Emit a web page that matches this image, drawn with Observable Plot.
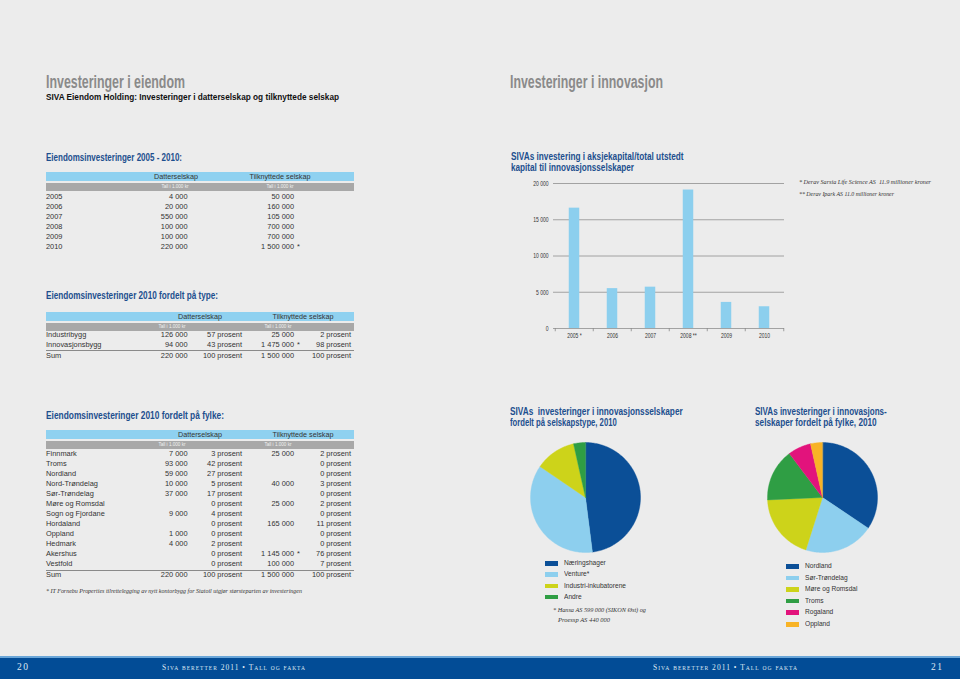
<!DOCTYPE html>
<html><head><meta charset="utf-8">
<script src="https://cdn.jsdelivr.net/npm/d3@7"></script>
<script src="https://cdn.jsdelivr.net/npm/@observablehq/plot@0.6"></script>
<style>
html,body{margin:0;padding:0;}
body{width:960px;height:679px;background:#ececec;position:relative;overflow:hidden;font-family:'Liberation Sans',Arial,sans-serif;color:#333;}
.a{position:absolute;white-space:nowrap;}
.h{font-weight:bold;color:#1d4f8e;font-size:10.4px;line-height:11px;}
.cell{font-size:7.4px;line-height:10px;color:#333;}
.serif{font-family:'Liberation Serif','Times New Roman',serif;font-style:italic;}
</style></head>
<body>
<div id="root"></div>
<script>
// ---------- data ----------
const years05 = ["2005","2006","2007","2008","2009","2010"];
const dattYears = ["4 000","20 000","550 000","100 000","100 000","220 000"];
const tilkYears = ["50 000","160 000","105 000","700 000","700 000","1 500 000 *"];

const typeLabels = ["Industribygg","Innovasjonsbygg","Sum"];
const typeDattVal = ["126 000","94 000","220 000"];
const typeDattPct = ["57 prosent","43 prosent","100 prosent"];
const typeTilkVal = ["25 000","1 475 000 *","1 500 000"];
const typeTilkPct = ["2 prosent","98 prosent","100 prosent"];

const fylker = ["Finnmark","Troms","Nordland","Nord-Trøndelag","Sør-Trøndelag","Møre og Romsdal","Sogn og Fjordane","Hordaland","Oppland","Hedmark","Akershus","Vestfold","Sum"];
const fylkeDattVal = ["7 000","93 000","59 000","10 000","37 000","","9 000","","1 000","4 000","","","220 000"];
const fylkeDattPct = ["3 prosent","42 prosent","27 prosent","5 prosent","17 prosent","0 prosent","4 prosent","0 prosent","0 prosent","2 prosent","0 prosent","0 prosent","100 prosent"];
const fylkeTilkVal = ["25 000","","","40 000","","25 000","","165 000","","","1 145 000 *","100 000","1 500 000"];
const fylkeTilkPct = ["2 prosent","0 prosent","0 prosent","3 prosent","0 prosent","2 prosent","0 prosent","11 prosent","0 prosent","0 prosent","76 prosent","7 prosent","100 prosent"];

const barYears = ["2005 *","2006","2007","2008 **","2009","2010"];
const barValues = [16600, 5500, 5700, 19100, 3600, 3000];

const typeCats = ["Næringshager","Venture*","Industri-inkubatorene","Andre"];
const typeShares = [48, 36.5, 12, 3.5];
const typeColors = ["#0b4f97","#8dcfee","#cdd31a","#2f9e44"];

const fylkeCats = ["Nordland","Sør-Trøndelag","Møre og Romsdal","Troms","Rogaland","Oppland"];
const fylkeShares = [34.4, 20.5, 19.4, 15.4, 6.8, 3.5];
const fylkeColors = ["#0b4f97","#8dcfee","#cdd31a","#2f9e44","#e2137c","#f8b326"];

// ---------- helpers ----------
const root = document.getElementById("root");
function el(html, style, cls){ const d=document.createElement("div"); d.className="a "+(cls||""); d.innerHTML=html; Object.assign(d.style,style); root.appendChild(d); return d; }
function fit(html, x, top, width, cls, style){
  const d = el(html, Object.assign({left:x+"px", top:top+"px"}, style||{}), cls);
  const w = d.getBoundingClientRect().width;
  d.style.transformOrigin = "0 0";
  d.style.transform = `scaleX(${width/w})`;
  return d;
}
function txtLeft(t,x,yc,cls,extra){ return el(t,Object.assign({left:x+"px",top:(yc-5)+"px",lineHeight:"10px"},extra||{}),cls); }
function txtRight(t,xr,yc,cls,extra){
  let star="";
  const m=t.match(/^(.*?)( \*+)$/); if(m){t=m[1];star=m[2].trim();}
  el(t,Object.assign({left:(xr-120)+"px",width:"120px",textAlign:"right",top:(yc-5)+"px",lineHeight:"10px"},extra||{}),cls);
  if(star) el(star,Object.assign({left:(xr+3)+"px",top:(yc-5)+"px",lineHeight:"10px"},extra||{}),cls);
}
function txtCenter(t,xc,yc,cls,extra){ el(t,Object.assign({left:(xc-100)+"px",width:"200px",textAlign:"center",top:(yc-5)+"px",lineHeight:"10px"},extra||{}),cls); }
function rect(x,y,w,h,c){ el("",{left:x+"px",top:y+"px",width:w+"px",height:h+"px",background:c}); }

function tableHeader(top, c1, c2, s1, s2){
  rect(46,top,308,9,"#8fd1f0");
  rect(46,top+11,308,8,"#a8a8a8");
  txtCenter("Datterselskap",c1,top+4.6,"cell",{color:"#333",fontSize:"7.2px"});
  txtCenter("Tilknyttede selskap",c2,top+4.6,"cell",{color:"#333",fontSize:"7.2px"});
  txtCenter("Tall i 1.000 kr",s1,top+15,"cell",{color:"#f0f0f0",fontSize:"4.6px"});
  txtCenter("Tall i 1.000 kr",s2,top+15,"cell",{color:"#f0f0f0",fontSize:"4.6px"});
}

// ---------- page titles ----------
fit("Investeringer i eiendom",46,72.5,139,"",{fontSize:"17.5px",color:"#8a8a8a",fontWeight:"bold",lineHeight:"18px"});
fit("SIVA Eiendom Holding: Investeringer i datterselskap og tilknyttede selskap",46,91,293,"",{fontSize:"9.8px",color:"#111",fontWeight:"bold"});
fit("Investeringer i innovasjon",510,72.5,153,"",{fontSize:"17.5px",color:"#8a8a8a",fontWeight:"bold",lineHeight:"18px"});

// ---------- table 1 ----------
fit("Eiendomsinvesteringer 2005 - 2010:",46,151.5,136,"h");
tableHeader(172,176,280,175,280);
years05.forEach((y,i)=>{
  const yc=197+i*10;
  txtLeft(y,46,yc,"cell");
  txtRight(dattYears[i],187.5,yc,"cell");
  txtRight(tilkYears[i],294,yc,"cell");
});

// ---------- table 2 ----------
fit("Eiendomsinvesteringer 2010 fordelt på type:",46,289.5,172,"h");
tableHeader(312,200,303,172,278);
typeLabels.forEach((l,i)=>{
  const yc = i<2 ? 334.5+i*10 : 356;
  txtLeft(l,46,yc,"cell");
  txtRight(typeDattVal[i],187.5,yc,"cell");
  txtRight(typeDattPct[i],242,yc,"cell");
  txtRight(typeTilkVal[i],294,yc,"cell");
  txtRight(typeTilkPct[i],351,yc,"cell");
});
rect(46,350,308,1,"#8a8a8a");

// ---------- table 3 ----------
fit("Eiendomsinvesteringer 2010 fordelt på fylke:",46,409.5,178,"h");
tableHeader(430,200,303,172,278);
fylker.forEach((l,i)=>{
  const yc = i<12 ? 454+i*10 : 575;
  txtLeft(l,46,yc,"cell");
  txtRight(fylkeDattVal[i],187.5,yc,"cell");
  txtRight(fylkeDattPct[i],242,yc,"cell");
  txtRight(fylkeTilkVal[i],294,yc,"cell");
  txtRight(fylkeTilkPct[i],351,yc,"cell");
});
rect(46,569.5,308,1,"#8a8a8a");
fit("* IT Fornebu Properties tilrettelegging av nytt kontorbygg for Statoil utgjør størsteparten av investeringen",46,587,256,"serif",{fontSize:"6.4px",color:"#333"});

// ---------- bar chart ----------
fit("SIVAs investering i aksjekapital/total utstedt",511,150.5,172.6,"h");
fit("kapital til innovasjonsselskaper",511,161.5,123,"h");
const fmt = d => d3.format(",")(d).replace(/,/g," ");
const barData = barYears.map((y,i)=>({year:y, value:barValues[i]}));
const bw = 231/6;
const bar = Plot.plot({
  width:300, height:178, marginLeft:53, marginRight:16, marginTop:13, marginBottom:20,
  style:{background:"transparent", fontFamily:"'Liberation Sans',sans-serif", fontSize:"7.6px", color:"#333"},
  x:{domain:barYears, padding:0, label:null, tickSize:0, tickPadding:4.5},
  y:{domain:[0,20000], ticks:[0,5000,10000,15000,20000], tickFormat:fmt, label:null, tickSize:0, tickPadding:5},
  marks:[
    Plot.ruleY([0,5000,10000,15000,20000],{stroke:"#9a9a9a", strokeWidth:0.9}),
    Plot.barY(barData,{x:"year", y:"value", fill:"#8ccfee", insetLeft:(bw-11)/2, insetRight:(bw-11)/2}),
    Plot.ruleX(barYears,{x:d=>d, dx:-bw/2, y1:0, y2:-450, stroke:"#8a8a8a", strokeWidth:0.8}),
    Plot.ruleX([barYears[barYears.length-1]],{x:d=>d, dx:bw/2, y1:0, y2:-450, stroke:"#8a8a8a", strokeWidth:0.8})
  ]
});
const bd = el("",{left:"500px",top:"170px"}); bd.appendChild(bar);
// condense axis labels (narrow typeface look)
bar.querySelectorAll("g[aria-label$='axis tick label'] text").forEach(t=>{
  const L = t.getComputedTextLength();
  t.setAttribute("textLength", (L*0.66).toFixed(2));
  t.setAttribute("lengthAdjust","spacingAndGlyphs");
});
fit("* Derav Sarsia Life Science AS&nbsp; 11.9 millioner kroner",799,178,132,"serif",{fontSize:"6.3px",lineHeight:"8px",color:"#333"});
fit("** Derav Ipark AS 11.0 millioner kroner",799,190,95,"serif",{fontSize:"6.3px",lineHeight:"8px",color:"#333"});

// ---------- pies ----------
function pieChart(cats, shares, colors){
  const arcs = d3.pie().sort(null).value(d=>d)(shares);
  const pts = [];
  arcs.forEach((a,i)=>{
    pts.push({cat:cats[i], x:0, y:0});
    const n = Math.max(4, Math.ceil((a.endAngle-a.startAngle)/0.02));
    for(let k=0;k<=n;k++){
      const t = a.startAngle + (a.endAngle-a.startAngle)*k/n;
      pts.push({cat:cats[i], x:Math.sin(t), y:Math.cos(t)});
    }
  });
  return Plot.plot({
    width:112, height:112, margin:1,
    style:{background:"transparent"},
    x:{domain:[-1,1], axis:null}, y:{domain:[-1,1], axis:null},
    color:{domain:cats, range:colors},
    marks:[ Plot.line(pts,{x:"x", y:"y", z:"cat", fill:"cat", stroke:"cat", strokeWidth:0.4, curve:"linear-closed"}) ]
  });
}
function legend(cats, colors, x, y0, step){
  cats.forEach((c,i)=>{
    const yc = y0+i*step;
    rect(x, yc-2, 13, 4.5, colors[i]);
    const d = txtLeft(c, x+19, yc, "cell", {fontSize:"7.5px"});
    d.style.transformOrigin="0 0"; d.style.transform="scaleX(0.88)";
  });
}

fit("SIVAs&nbsp; investeringer i innovasjonsselskaper",510,405.5,172.7,"h");
fit("fordelt på selskapstype, 2010",510,416.5,106.7,"h");
const p1 = el("",{left:(585-56)+"px",top:(497-56)+"px"}); p1.appendChild(pieChart(typeCats,typeShares,typeColors));
legend(typeCats,typeColors,545,563,11.3);
fit("* Hansa AS 599 000 (SIKON Øst) og",553,606,93,"serif",{fontSize:"6.4px",color:"#333"});
fit("Proessp AS 440 000",558,616,52,"serif",{fontSize:"6.4px",color:"#333"});

fit("SIVAs investeringer i innovasjons-",755,405.5,131.7,"h");
fit("selskaper fordelt på fylke, 2010",755,416.5,121.7,"h");
const p2 = el("",{left:(822-56)+"px",top:(497-56)+"px"}); p2.appendChild(pieChart(fylkeCats,fylkeShares,fylkeColors));
legend(fylkeCats,fylkeColors,786,566,11.6);

// ---------- footer ----------
rect(0,656,960,2,"#6aa6d8");
rect(0,658,960,21,"#024c96");
const sc = {fontVariant:"small-caps", fontStyle:"normal", letterSpacing:"1.1px", fontSize:"8.2px", color:"#dfe8f3"};
const num = {fontStyle:"normal", fontSize:"9.5px", letterSpacing:"1.5px", color:"#dfe8f3"};
el("20",Object.assign({left:"17px",top:"662px"},num),"serif");
fit("Siva beretter 2011 • Tall og fakta",162,663,144,"serif",sc);
fit("Siva beretter 2011 • Tall og fakta",653,663,145,"serif",sc);
el("21",Object.assign({left:"931px",top:"662px"},num),"serif");
</script>
</body></html>
